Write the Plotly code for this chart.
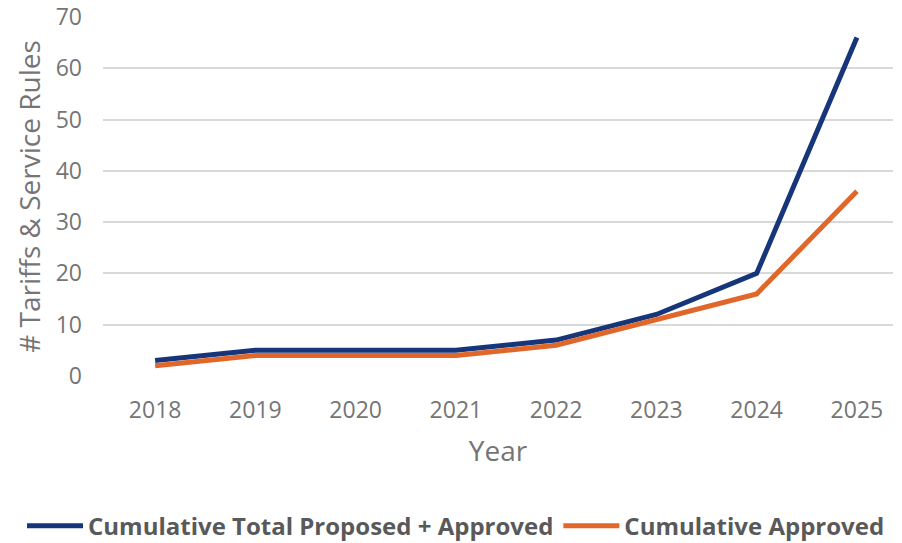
import plotly.graph_objects as go

years = [2018, 2019, 2020, 2021, 2022, 2023, 2024, 2025]
total_proposed_approved = [3, 5, 5, 5, 7, 12, 20, 66]
approved = [2, 4, 4, 4, 6, 11, 16, 36]

y_ticks = [0, 10, 20, 30, 40, 50, 60, 70]

fig = go.Figure()
fig.add_trace(go.Scatter(x=years, y=total_proposed_approved, mode="lines",
                         name="Cumulative Total Proposed + Approved",
                         line=dict(color="#17367A", width=5)))
fig.add_trace(go.Scatter(x=years, y=approved, mode="lines",
                         name="Cumulative Approved",
                         line=dict(color="#E0662A", width=5)))

fig.update_layout(
    width=902, height=543,
    margin=dict(l=103, r=9, t=17, b=167, autoexpand=False),
    paper_bgcolor="white", plot_bgcolor="white",
    font=dict(family="Open Sans", color="#757575", size=23),
    xaxis=dict(range=[2017.48, 2025.36], tickvals=years, ticktext=[str(y) for y in years],
               showgrid=False, zeroline=False, showline=False, ticks="",
               ticklabelstandoff=18,
               tickfont=dict(size=23), title=dict(text="Year", font=dict(size=28), standoff=17)),
    yaxis=dict(range=[0, 70], tickvals=y_ticks, showgrid=True, gridcolor="#D9D9D9", gridwidth=2,
               zeroline=False, showline=False, ticks="", ticklabelstandoff=20,
               tickfont=dict(size=23),
               title=dict(text="# Tariffs & Service Rules", font=dict(size=28), standoff=6)),
    legend=dict(orientation="h", x=-0.1025, xanchor="left",
                y=-0.418, yanchor="middle",
                font=dict(size=24, color="#595959", weight="bold"),
                itemwidth=56, itemsizing="constant"),
    showlegend=True,
)
fig.write_html("out.html", config={"displayModeBar": False},
               post_script="document.body.style.margin='0';")
